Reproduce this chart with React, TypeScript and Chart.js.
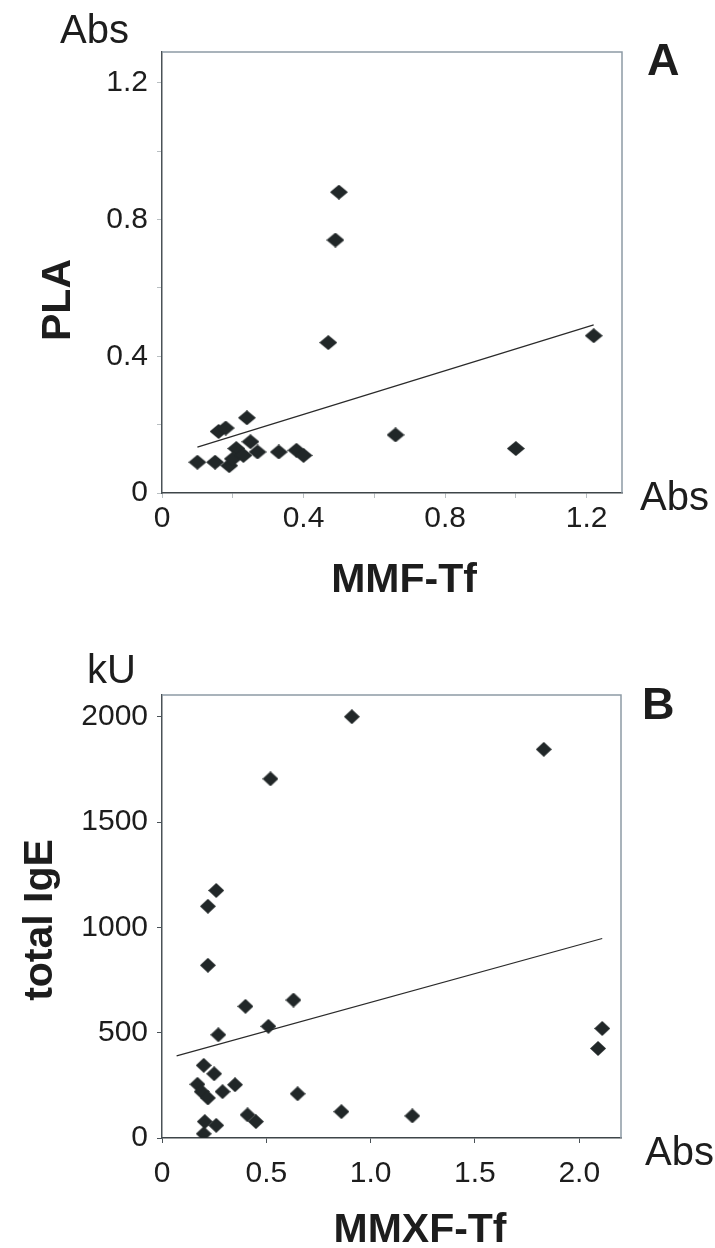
import { useEffect, useRef } from 'react';
import { Chart, registerables } from 'chart.js';

Chart.register(...registerables);

// ---- Panel A: PLA vs MMF-Tf ----
const plaX = [0.50, 0.49, 0.47, 1.22, 0.66, 1.00, 0.24, 0.16, 0.18, 0.10, 0.15, 0.19, 0.21, 0.25, 0.27, 0.20, 0.23, 0.33, 0.38, 0.40];
const plaY = [0.88, 0.74, 0.44, 0.46, 0.17, 0.13, 0.22, 0.18, 0.19, 0.09, 0.09, 0.08, 0.13, 0.15, 0.12, 0.10, 0.11, 0.12, 0.125, 0.11];
const plaTrendX = [0.10, 1.22];
const plaTrendY = [0.134, 0.492];
const plaTicks = [0, 0.2, 0.4, 0.6, 0.8, 1.0, 1.2];
const plaTickLabels = ['0', '0.4', '0.8', '1.2'];

// ---- Panel B: total IgE vs MMXF-Tf ----
const igeX = [0.91, 1.83, 0.52, 0.26, 0.22, 0.22, 0.63, 0.40, 0.51, 0.27, 2.11, 2.09, 0.20, 0.25, 0.17, 0.35, 0.19, 0.22, 0.29, 0.65, 0.41, 0.45, 0.86, 1.20, 0.205, 0.26, 0.20];
const igeY = [2000, 1845, 1705, 1175, 1100, 820, 655, 625, 530, 490, 520, 425, 345, 305, 255, 253, 220, 190, 220, 210, 110, 78, 125, 105, 78, 60, 20];
const igeTrendX = [0.07, 2.11];
const igeTrendY = [390, 947];
const igeXTicks = [0, 0.5, 1.0, 1.5, 2.0];
const igeXTickLabels = ['0', '0.5', '1.0', '1.5', '2.0'];
const igeYTicks = [0, 500, 1000, 1500, 2000];
const igeYTickLabels = ['0', '500', '1000', '1500', '2000'];

const TICK_FONT = { family: "'Liberation Sans', Arial, sans-serif", size: 30 };
const TEXT = '#1d1d1d';

function diamond(w: number, h: number, color: string) {
  const c = document.createElement('canvas');
  c.width = w;
  c.height = h;
  const g = c.getContext('2d')!;
  g.fillStyle = color;
  g.beginPath();
  g.moveTo(w / 2, 0);
  g.lineTo(w, h / 2);
  g.lineTo(w / 2, h);
  g.lineTo(0, h / 2);
  g.closePath();
  g.fill();
  return c;
}

type Label = { text: string; x: number; y: number; font: string; align?: CanvasTextAlign; rot?: number };

function textPlugin(items: Label[]) {
  return {
    id: 'texts',
    afterDraw(chart: any) {
      const ctx = chart.ctx;
      items.forEach((it) => {
        ctx.save();
        ctx.font = it.font;
        ctx.fillStyle = TEXT;
        ctx.textAlign = it.align || 'left';
        ctx.textBaseline = 'alphabetic';
        ctx.translate(it.x, it.y);
        if (it.rot) ctx.rotate(it.rot);
        ctx.fillText(it.text, 0, 0);
        ctx.restore();
      });
    },
  };
}

const boxPlugin = {
  id: 'box',
  beforeDatasetsDraw(chart: any) {
    const { ctx, chartArea } = chart;
    ctx.save();
    ctx.strokeStyle = '#8d9ba5';
    ctx.lineWidth = 1.5;
    ctx.beginPath();
    ctx.moveTo(chartArea.left, chartArea.top);
    ctx.lineTo(chartArea.right, chartArea.top);
    ctx.lineTo(chartArea.right, chartArea.bottom);
    ctx.stroke();
    ctx.restore();
  },
};

function toPts(xs: number[], ys: number[]) {
  return xs.map((x, i) => ({ x, y: ys[i] }));
}

function labelFromList(list: string[]) {
  return (v: number) => {
    const hit = list.find((l) => Math.abs(parseFloat(l) - v) < 1e-6);
    return hit === undefined ? '' : hit;
  };
}

function makeConfig(o: any) {
  return {
    type: 'scatter',
    data: {
      datasets: [
        {
          data: toPts(o.trendX, o.trendY),
          showLine: true,
          borderColor: '#2a2a2a',
          borderWidth: 1.2,
          pointRadius: 0,
          fill: false,
          order: 2,
        },
        {
          data: toPts(o.xs, o.ys),
          pointStyle: o.marker,
          pointRadius: 8,
          order: 1,
        },
      ],
    },
    options: {
      animation: false,
      responsive: false,
      devicePixelRatio: 1,
      layout: { padding: o.padding },
      plugins: { legend: { display: false }, tooltip: { enabled: false } },
      scales: {
        x: {
          type: 'linear',
          min: 0,
          max: o.xMax,
          afterBuildTicks: (s: any) => { s.ticks = o.xTicks.map((v: number) => ({ value: v })); },
          afterFit: (s: any) => { s.height = 60; },
          border: { display: true, color: '#3e4549', width: 1.5 },
          grid: { drawOnChartArea: false, drawTicks: true, tickLength: 5, color: o.tickColor },
          ticks: {
            padding: o.xPad,
            maxRotation: 0,
            autoSkip: false,
            color: TEXT,
            font: TICK_FONT,
            callback: labelFromList(o.xLabels),
          },
        },
        y: {
          type: 'linear',
          min: 0,
          max: o.yMax,
          afterBuildTicks: (s: any) => { s.ticks = o.yTicks.map((v: number) => ({ value: v })); },
          afterFit: (s: any) => { s.width = 162; },
          border: { display: true, color: '#4a5257', width: 1.5 },
          grid: { drawOnChartArea: false, drawTicks: true, tickLength: 5, color: o.tickColor },
          ticks: {
            padding: 9,
            autoSkip: false,
            color: TEXT,
            font: TICK_FONT,
            callback: labelFromList(o.yLabels),
          },
        },
      },
    },
    plugins: [boxPlugin, textPlugin(o.labels)],
  };
}

export default function App() {
  const refA = useRef<HTMLCanvasElement>(null);
  const refB = useRef<HTMLCanvasElement>(null);

  useEffect(() => {
    const markA = diamond(18, 15, '#212728');
    const markB = diamond(16, 15, '#212728');
    const cfgA = makeConfig({
      xs: plaX, ys: plaY, trendX: plaTrendX, trendY: plaTrendY, marker: markA,
      xMax: 1.3, yMax: 1.29, xTicks: plaTicks, yTicks: plaTicks, xPad: 3,
      tickColor: '#b9bfc2',
      xLabels: plaTickLabels, yLabels: plaTickLabels,
      padding: { left: 0, top: 52, right: 93, bottom: 67 },
      labels: [
        { text: 'Abs', x: 60, y: 43, font: "40px 'Liberation Sans', Arial, sans-serif" },
        { text: 'A', x: 647, y: 75, font: "bold 45px 'Liberation Sans', Arial, sans-serif" },
        { text: 'Abs', x: 640, y: 510, font: "40px 'Liberation Sans', Arial, sans-serif" },
        { text: 'MMF-Tf', x: 404, y: 592, align: 'center', font: "bold 41px 'Liberation Sans', Arial, sans-serif" },
        { text: 'PLA', x: 70, y: 300, align: 'center', rot: -Math.PI / 2, font: "bold 41px 'Liberation Sans', Arial, sans-serif" },
      ],
    });
    const cfgB = makeConfig({
      xs: igeX, ys: igeY, trendX: igeTrendX, trendY: igeTrendY, marker: markB,
      xMax: 2.2, yMax: 2103, xTicks: igeXTicks, yTicks: igeYTicks, xPad: 13,
      tickColor: '#4a5257',
      xLabels: igeXTickLabels, yLabels: igeYTickLabels,
      padding: { left: 0, top: 75, right: 94, bottom: 50 },
      labels: [
        { text: 'kU', x: 87, y: 63, font: "40px 'Liberation Sans', Arial, sans-serif" },
        { text: 'B', x: 642, y: 99, font: "bold 45px 'Liberation Sans', Arial, sans-serif" },
        { text: 'Abs', x: 645, y: 545, font: "40px 'Liberation Sans', Arial, sans-serif" },
        { text: 'MMXF-Tf', x: 420, y: 622, align: 'center', font: "bold 41px 'Liberation Sans', Arial, sans-serif" },
        { text: 'total IgE', x: 52, y: 300, align: 'center', rot: -Math.PI / 2, font: "bold 41px 'Liberation Sans', Arial, sans-serif" },
      ],
    });
    const a = new Chart(refA.current!, cfgA as any);
    const b = new Chart(refB.current!, cfgB as any);
    return () => {
      a.destroy();
      b.destroy();
    };
  }, []);

  return (
    <div style={{ position: 'absolute', left: 0, top: 0, width: 715, height: 1248, background: '#fff' }}>
      <canvas ref={refA} width={715} height={620} style={{ position: 'absolute', left: 0, top: 0, width: 715, height: 620 }} />
      <canvas ref={refB} width={715} height={628} style={{ position: 'absolute', left: 0, top: 620, width: 715, height: 628 }} />
    </div>
  );
}
